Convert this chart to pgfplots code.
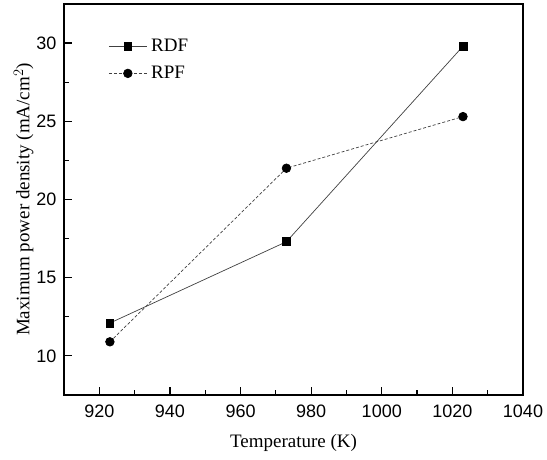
\documentclass[border=0pt]{standalone}
\usepackage{pgfplots}
\pgfplotsset{compat=1.18}
\usepackage{fontspec}
\setmainfont{Liberation Serif}
\newfontfamily\arial{Liberation Sans}
\begin{document}
\begin{tikzpicture}
\begin{axis}[
    scale only axis,
    width=459pt, height=391pt,
    xmin=910, xmax=1040,
    ymin=7.5, ymax=32.5,
    xtick={920,940,...,1040},
    ytick={10,15,...,30},
    minor x tick num=1,
    minor y tick num=1,
    tick align=inside,
    xtick pos=bottom, ytick pos=left,
    major tick length=8pt,
    minor tick length=5pt,
    major tick style={draw=black, line width=1.2pt},
    minor tick style={draw=black, line width=1.2pt},
    axis line style={line width=1.3pt},
    /pgf/number format/assume math mode=true,
    /pgf/number format/1000 sep={},
    ticklabel style={font=\arial\fontsize{18}{20}\selectfont},
    xticklabel style={yshift=-6pt},
    yticklabel style={xshift=-4pt},
    xlabel={Temperature (K)},
    ylabel={Maximum power density (mA/cm$^2$)},
    label style={font=\fontsize{19}{22}\selectfont},
    xlabel style={yshift=-10pt},
    ylabel style={yshift=-4pt},
    legend style={draw=none, fill=none, at={(0.09,0.92)}, anchor=north west,
        font=\fontsize{19}{22}\selectfont, row sep=9pt,
        nodes={inner xsep=4pt}},
    legend cell align=left,
    legend image code/.code={
        \draw[mark repeat=2, mark phase=2, #1]
        plot coordinates {(0pt,0pt) (19pt,0pt) (38pt,0pt)};},
]
\addplot[black!75, line width=0.7pt, mark=square*, mark size=3.9pt,
    mark options={solid, fill=black, draw=black}]
    coordinates {(923,12.1) (973,17.3) (1023,29.8)};
\addlegendentry{RDF}
\addplot[black!75, line width=0.7pt, densely dashed, mark=*, mark size=4.3pt,
    mark options={solid, fill=black, draw=black}]
    coordinates {(923,10.9) (973,22.0) (1023,25.3)};
\addlegendentry{RPF}
\end{axis}
\path ([xshift=-64pt,yshift=-65pt]current axis.south west)
    rectangle ([xshift=24pt,yshift=4pt]current axis.north east);
\end{tikzpicture}
\end{document}
